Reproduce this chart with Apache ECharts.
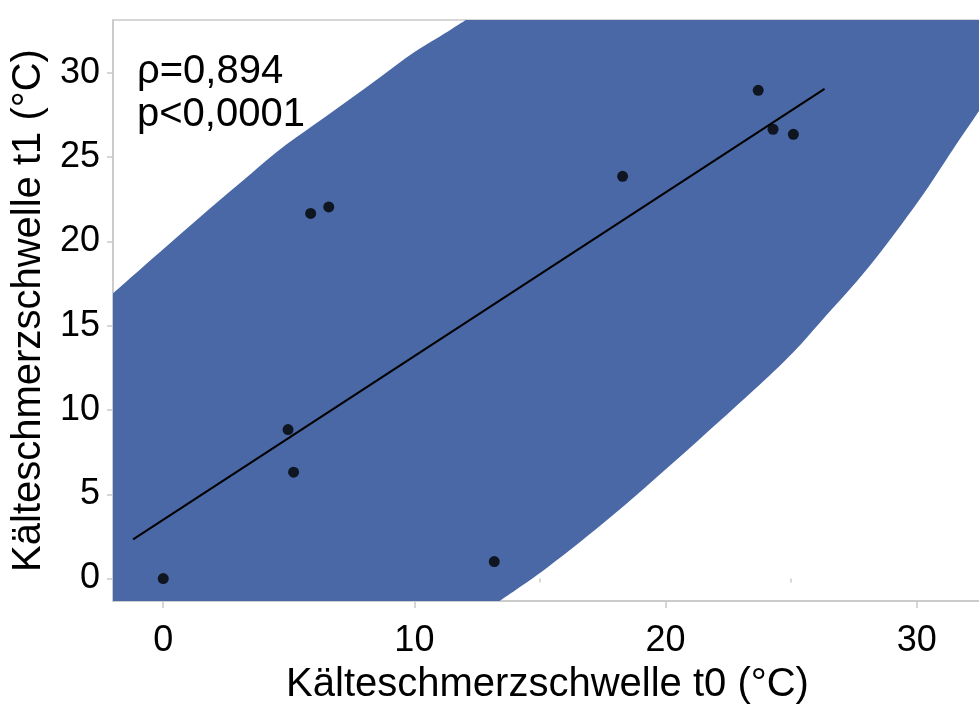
<!DOCTYPE html>
<html>
<head>
<meta charset="utf-8">
<script src="https://cdn.jsdelivr.net/npm/echarts@6/dist/echarts.min.js"></script>
<style>
  html, body { margin: 0; padding: 0; background: #fff; }
  #chart { width: 979px; height: 704px; }
</style>
</head>
<body>
<div id="chart"></div>
<script>
// ---- data ----
var t0 = [0, 4.97, 5.19, 5.87, 6.59, 13.18, 18.29, 23.69, 24.28, 25.09];
var t1 = [0, 8.84, 6.31, 21.66, 22.04, 1.01, 23.86, 28.96, 26.65, 26.35];

// linear fit line end points
var fitX = [-1.2, 26.33];
var fitY = [2.32, 29.04];

// density ellipse outline (visible part)
var upperX = [-2.0, -0.80, 0.54, 1.87, 3.20, 4.53, 5.99, 7.33, 8.66, 9.99, 11.32, 12.05];
var upperY = [16.91, 18.49, 20.24, 21.96, 23.64, 25.32, 26.9, 28.33, 29.77, 31.22, 32.44, 33.13];
var lowerX = [13.39, 15.32, 17.98, 21.31, 24.64, 26.24, 28.1, 30.1, 31.43, 32.6];
var lowerY = [-1.33, 0.69, 3.86, 8.21, 12.76, 15.34, 18.49, 22.45, 25.42, 27.99];

var xTicks = [0, 10, 20, 30];
var xMinorTicks = [5, 15, 25];
var yTicks = [0, 5, 10, 15, 20, 25, 30];

var xMin = -2.0, xMax = 32.6, yMin = -1.33, yMax = 33.13;

var statLines = ['\u03c1=0,894', 'p<0,0001'];
var xTitle = 'K\u00e4lteschmerzschwelle t0 (\u00b0C)';
var yTitle = 'K\u00e4lteschmerzschwelle t1 (\u00b0C)';

// ---- build ----
var FONT = 'Liberation Sans, Arial, sans-serif';
var pts = t0.map(function (v, i) { return [v, t1[i]]; });
var fit = fitX.map(function (v, i) { return [v, fitY[i]]; });
var upper = upperX.map(function (v, i) { return [v, upperY[i]]; });
var lower = lowerX.map(function (v, i) { return [v, lowerY[i]]; });

// smooth curve (Catmull-Rom as cubic Bezier) through pixel points
function curvePath(p) {
  var d = 'L' + p[0][0] + ' ' + p[0][1];
  for (var i = 0; i < p.length - 1; i++) {
    var p0 = p[i > 0 ? i - 1 : i], p1 = p[i], p2 = p[i + 1], p3 = p[i + 2 < p.length ? i + 2 : i + 1];
    var c1x = p1[0] + (p2[0] - p0[0]) / 6, c1y = p1[1] + (p2[1] - p0[1]) / 6;
    var c2x = p2[0] - (p3[0] - p1[0]) / 6, c2y = p2[1] - (p3[1] - p1[1]) / 6;
    d += 'C' + c1x + ' ' + c1y + ' ' + c2x + ' ' + c2y + ' ' + p2[0] + ' ' + p2[1];
  }
  return d;
}

var chart = echarts.init(document.getElementById('chart'), null, { renderer: 'canvas' });

var axisLineStyle = { color: '#c9c9c9', width: 1.5 };

chart.setOption({
  animation: false,
  backgroundColor: '#fff',
  grid: {
    left: 113, top: 20, right: -3, bottom: 103,
    containLabel: false, outerBoundsMode: 'none',
    show: true, borderColor: '#c9c9c9', borderWidth: 1.5, backgroundColor: '#fff'
  },
  xAxis: [{
    type: 'value', min: xMin, max: xMax,
    splitLine: { show: false },
    axisLine: { show: true, onZero: false, lineStyle: axisLineStyle },
    axisTick: { show: true, length: 7, lineStyle: axisLineStyle, customValues: xTicks },
    axisLabel: { customValues: xTicks, color: '#000', fontSize: 36, fontFamily: FONT, margin: 22 },
    name: xTitle, nameLocation: 'middle', nameGap: 64,
    nameTextStyle: { color: '#000', fontSize: 40, fontFamily: FONT }
  }, {
    type: 'value', min: xMin, max: xMax, position: 'bottom',
    splitLine: { show: false },
    axisLine: { show: false },
    axisTick: { show: true, length: 4, lineStyle: axisLineStyle, customValues: xMinorTicks },
    axisLabel: { show: false }
  }],
  yAxis: {
    type: 'value', min: yMin, max: yMax,
    splitLine: { show: false },
    axisLine: { show: true, onZero: false, lineStyle: axisLineStyle },
    axisTick: { show: true, length: 6, lineStyle: axisLineStyle, customValues: yTicks },
    axisLabel: { customValues: yTicks, color: '#000', fontSize: 36, fontFamily: FONT, margin: 13 },
    name: yTitle, nameLocation: 'middle', nameGap: 62,
    nameTextStyle: { color: '#000', fontSize: 40, fontFamily: FONT }
  },
  series: [{
    type: 'custom',
    clip: true,
    silent: true,
    data: [0],
    z: 1,
    renderItem: function (params, api) {
      var up = upper.map(function (p) { return api.coord(p); });
      var lo = lower.map(function (p) { return api.coord(p); });
      var bl = api.coord([xMin, yMin]);
      var tr = api.coord([xMax, yMax]);
      var d = 'M' + bl[0] + ' ' + bl[1];
      d += curvePath(up);
      d += 'L' + tr[0] + ' ' + tr[1];
      d += curvePath(lo.slice().reverse());
      d += 'Z';
      return { type: 'path', shape: { pathData: d }, style: { fill: '#4a68a5', stroke: null } };
    }
  }, {
    type: 'line',
    data: fit,
    showSymbol: false,
    z: 3,
    lineStyle: { color: '#000', width: 2 }
  }, {
    type: 'scatter',
    data: pts,
    symbolSize: 11,
    z: 4,
    itemStyle: { color: '#000' }
  }],
  graphic: [{
    type: 'text', left: 137, top: 50,
    style: { text: statLines.join('\n'), fill: '#000', fontSize: 40, fontFamily: FONT, lineHeight: 43 }
  }]
});
</script>
</body>
</html>
